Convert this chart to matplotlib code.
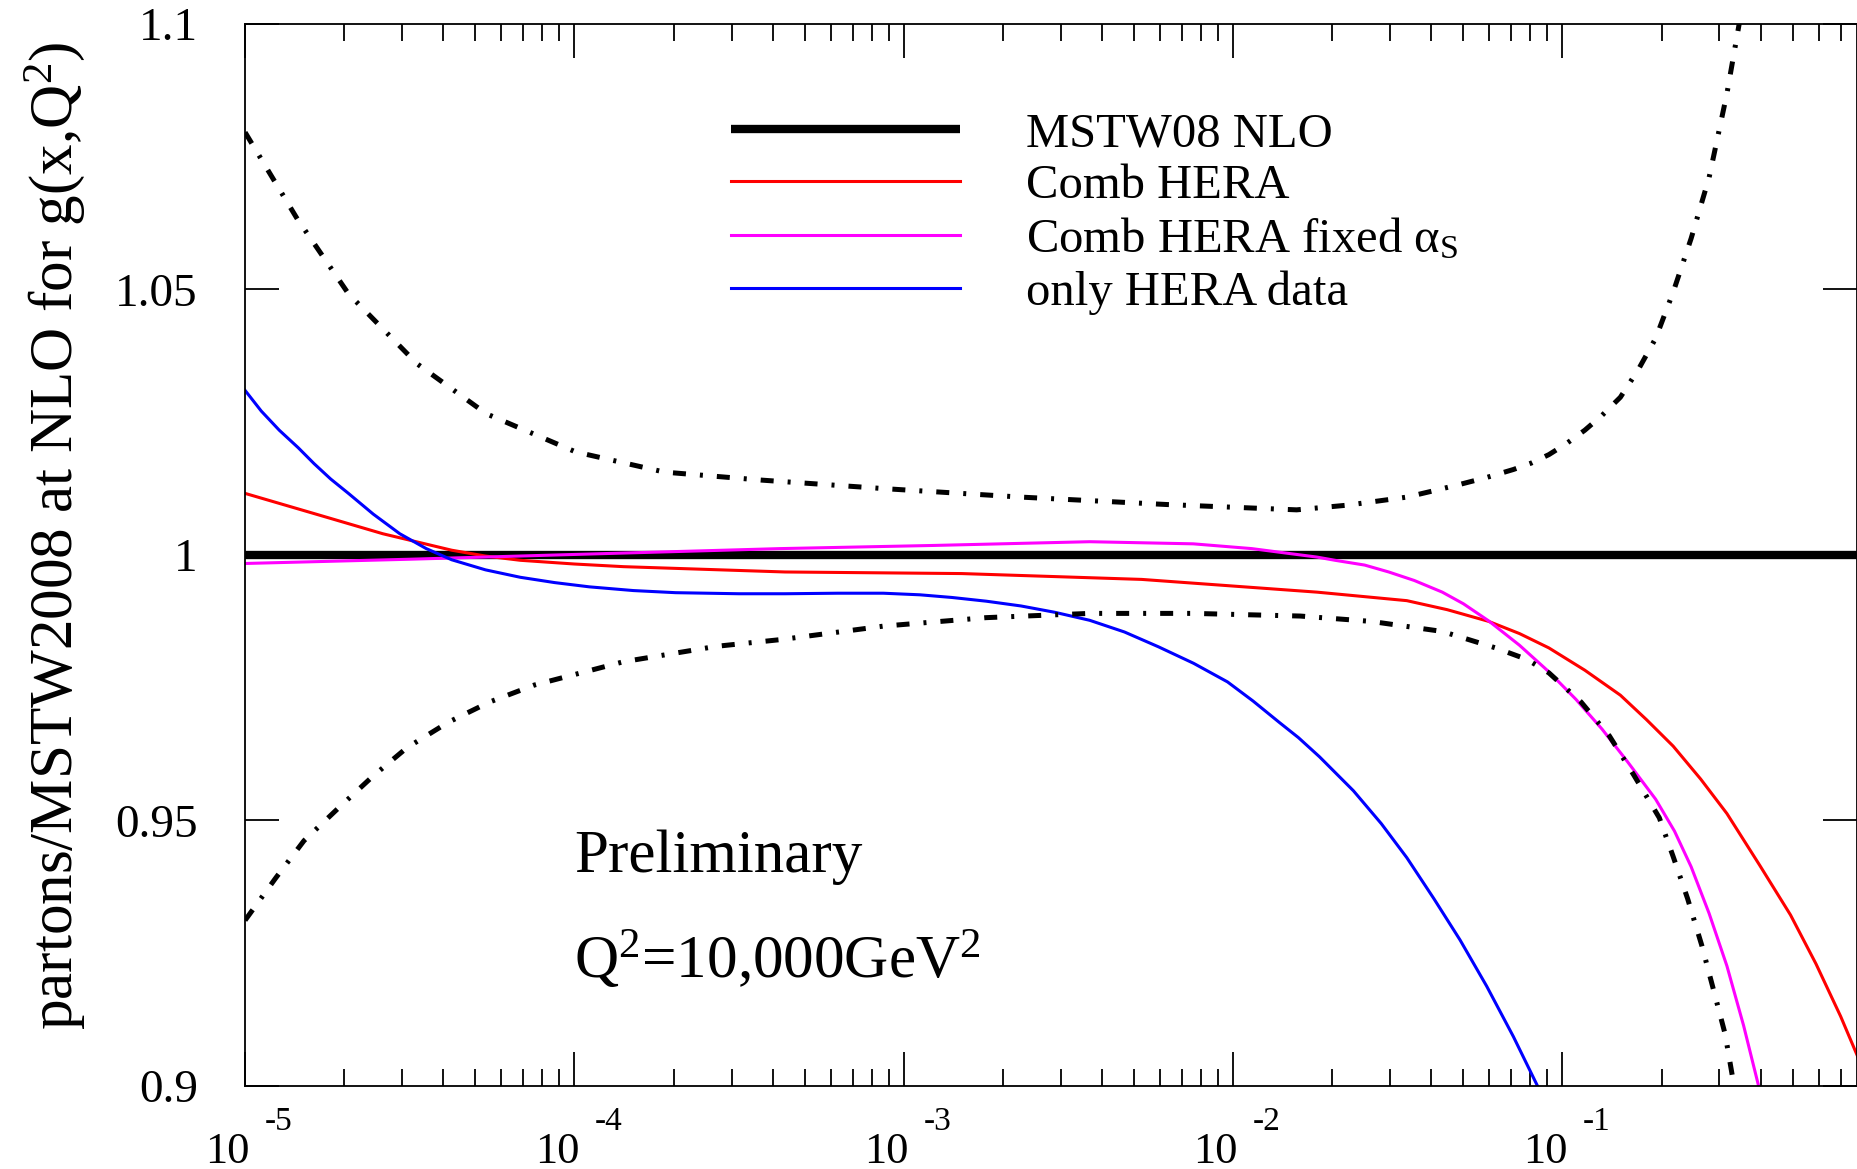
import matplotlib
matplotlib.use('Agg')
import numpy as np
import matplotlib.pyplot as plt
from matplotlib.ticker import FixedLocator, LogLocator, NullFormatter, FuncFormatter

plt.rcParams['font.family'] = ['Liberation Serif', 'DejaVu Serif']
plt.rcParams['mathtext.fontset'] = 'custom'
plt.rcParams['mathtext.rm'] = 'Liberation Serif'
plt.rcParams['mathtext.it'] = 'Liberation Serif:italic'
plt.rcParams['mathtext.bf'] = 'Liberation Serif:bold'

# --- values (x, ratio to MSTW08 NLO) ---
x_mstw = [1e-5, 0.785]
r_mstw = [1.0, 1.0]

# error band of MSTW08 (dash-dot)
x_upper = [1.00e-5, 1.44e-5, 2.06e-5, 3.33e-5, 5.40e-5, 1.01e-4, 1.88e-4, 3.70e-4,
           8.7e-4, 2.27e-3, 6.3e-3, 1.56e-2, 2.24e-2, 3.37e-2, 4.07e-2, 4.89e-2,
           5.89e-2, 7.10e-2, 8.04e-2, 9.10e-2, 0.103, 0.117, 0.132, 0.150, 0.170,
           0.192, 0.217, 0.246, 0.279, 0.316, 0.344, 0.355]
r_upper = [1.0796, 1.0633, 1.0492, 1.0360, 1.0266, 1.0194, 1.0156, 1.0141,
           1.0125, 1.0109, 1.0095, 1.0085, 1.0094, 1.0109, 1.0121, 1.0133,
           1.0146, 1.0161, 1.0173, 1.0189, 1.0210, 1.0235, 1.0263, 1.0297, 1.0349,
           1.0408, 1.0495, 1.0596, 1.0711, 1.0869, 1.0999, 1.105]

x_lower = [1.00e-5, 1.24e-5, 1.51e-5, 1.91e-5, 2.44e-5, 3.10e-5, 4.14e-5, 5.52e-5,
           7.55e-5, 1.41e-4, 2.70e-4, 4.28e-4, 8.67e-4, 1.78e-3, 3.67e-3, 7.57e-3,
           1.60e-2, 2.62e-2, 4.32e-2, 6.27e-2, 7.83e-2, 9.10e-2, 0.114, 0.139,
           0.165, 0.197, 0.217, 0.240, 0.265, 0.290, 0.312, 0.332]
r_lower = [0.9312, 0.9392, 0.9462, 0.9522, 0.9583, 0.9637, 0.9685, 0.9723,
           0.9755, 0.9799, 0.9828, 0.9841, 0.9866, 0.9882, 0.9890, 0.9890,
           0.9885, 0.9875, 0.9856, 0.9825, 0.9803, 0.9778, 0.9723, 0.9659,
           0.9585, 0.9505, 0.9432, 0.9353, 0.9265, 0.9173, 0.9098, 0.9001]

# Comb HERA (red)
x_comb = [1.00e-5, 1.62e-5, 2.62e-5, 4.24e-5, 5.37e-5, 6.85e-5, 1.0e-4, 1.41e-4,
          4.36e-4, 1.50e-3, 5.28e-3, 1.80e-2, 3.37e-2, 4.47e-2, 5.97e-2, 7.41e-2,
          9.10e-2, 0.117, 0.150, 0.180, 0.217, 0.263, 0.316, 0.398, 0.493, 0.589,
          0.700, 0.789]
r_comb = [1.0116, 1.0078, 1.0040, 1.0009, 0.9998, 0.9990, 0.9983, 0.9978,
          0.9968, 0.9965, 0.9954, 0.9930, 0.9914, 0.9897, 0.9875, 0.9852,
          0.9825, 0.9783, 0.9736, 0.9690, 0.9640, 0.9578, 0.9513, 0.9415, 0.9322,
          0.9230, 0.9131, 0.9055]

# Comb HERA fixed alpha_S (magenta)
x_fixed = [1.00e-5, 3.16e-5, 1.0e-4, 4.21e-4, 1.24e-3, 3.67e-3, 7.57e-3, 1.14e-2,
           1.80e-2, 2.04e-2, 2.51e-2, 2.97e-2, 3.55e-2, 4.32e-2, 5.01e-2, 5.97e-2,
           7.41e-2, 9.10e-2, 0.110, 0.132, 0.158, 0.192, 0.219, 0.246, 0.279,
           0.316, 0.355, 0.394]
r_fixed = [0.9984, 0.9992, 1.0001, 1.0012, 1.0018, 1.0025, 1.0021, 1.0012,
           0.9996, 0.9990, 0.9981, 0.9968, 0.9952, 0.9930, 0.9908, 0.9876,
           0.9830, 0.9780, 0.9728, 0.9672, 0.9610, 0.9540, 0.9480, 0.9413, 0.9325,
           0.9226, 0.9114, 0.9001]

# only HERA data (blue)
x_hera = [1.00e-5, 1.12e-5, 1.27e-5, 1.45e-5, 1.62e-5, 1.82e-5, 2.06e-5, 2.45e-5,
          2.95e-5, 3.55e-5, 4.24e-5, 5.37e-5, 6.85e-5, 8.71e-5, 1.11e-4, 1.51e-4,
          2.03e-4, 3.16e-4, 4.36e-4, 6.31e-4, 8.67e-4, 1.12e-3, 1.40e-3, 1.78e-3,
          2.27e-3, 2.88e-3, 3.67e-3, 4.68e-3, 5.94e-3, 7.59e-3, 9.62e-3, 1.15e-2,
          1.38e-2, 1.58e-2, 1.83e-2, 2.32e-2, 2.82e-2, 3.37e-2, 4.07e-2, 4.89e-2,
          5.89e-2, 7.10e-2, 8.39e-2]
r_hera = [1.0310, 1.0271, 1.0235, 1.0202, 1.0172, 1.0143, 1.0116, 1.0077,
          1.0040, 1.0012, 0.9991, 0.9972, 0.9958, 0.9948, 0.9940, 0.9933,
          0.9929, 0.9927, 0.9927, 0.9928, 0.9928, 0.9925, 0.9920, 0.9913,
          0.9904, 0.9892, 0.9877, 0.9855, 0.9827, 0.9796, 0.9761, 0.9725,
          0.9685, 0.9656, 0.9620, 0.9556, 0.9494, 0.9430, 0.9353, 0.9275,
          0.9188, 0.9093, 0.9001]

y_ticks = [0.9, 0.95, 1.0, 1.05, 1.1]
x_decades = [-5, -4, -3, -2, -1]

labels = ['MSTW08 NLO', 'Comb HERA', r'Comb HERA fixed α$_\mathrm{S}$', 'only HERA data']

fig = plt.figure(figsize=(18.58, 11.69), dpi=100)
ax = fig.add_axes([0.1319, 0.0710, 0.8676, 0.9085])

ax.plot(x_mstw, r_mstw, color='black', lw=6, label=labels[0], solid_capstyle='butt')
ax.plot(x_comb, r_comb, color='#ff0000', lw=2.2, label=labels[1])
ax.plot(x_fixed, r_fixed, color='#ff00ff', lw=2.2, label=labels[2])
ax.plot(x_hera, r_hera, color='#0000ff', lw=2.2, label=labels[3])
dashdot = (0, (2.6, 2.8, 0.6, 2.8))
ax.plot(x_upper, r_upper, color='black', lw=3.6, ls=dashdot)
ax.plot(x_lower, r_lower, color='black', lw=3.6, ls=dashdot)

ax.set_xscale('log')
ax.set_xlim(1e-5, 0.785)
ax.set_ylim(0.9, 1.1)

ax.yaxis.set_major_locator(FixedLocator(y_ticks))
ax.yaxis.set_major_formatter(FuncFormatter(lambda v, p: f'{v:g}'))
ax.xaxis.set_major_locator(LogLocator(base=10, numticks=20))
ax.xaxis.set_minor_locator(LogLocator(base=10, subs=np.arange(2, 10), numticks=20))
ax.xaxis.set_major_formatter(NullFormatter())
ax.xaxis.set_minor_formatter(NullFormatter())

ax.tick_params(which='both', direction='in', top=True, right=True, width=1.3)
ax.tick_params(which='major', length=24.5)
ax.tick_params(which='minor', length=12.5)
ax.tick_params(axis='y', labelsize=34, pad=34)
for s in ax.spines.values():
    s.set_linewidth(1.3)

# x tick labels drawn as "10" with a raised exponent
for k in x_decades:
    ax.annotate('10', xy=(10.0 ** k, 0), xycoords=('data', 'axes fraction'),
                xytext=(5, -77), textcoords='offset pixels',
                ha='right', va='baseline', fontsize=32)
    ax.annotate(f'-{abs(k)}', xy=(10.0 ** k, 0), xycoords=('data', 'axes fraction'),
                xytext=(20, -44), textcoords='offset pixels',
                ha='left', va='baseline', fontsize=24)

ax.set_ylabel(r'partons/MSTW2008 at NLO for g(x,Q$^2$)', fontsize=44)
ax.yaxis.set_label_coords(-0.098, 0.518)

ax.legend(loc='upper left', bbox_to_anchor=(0.3015, 0.917), frameon=False,
          fontsize=35, handlelength=4.7, handletextpad=1.36,
          labelspacing=0.17, borderpad=0, borderaxespad=0)

ax.text(1.0e-4, 0.9403, 'Preliminary', fontsize=44, va='baseline')
ax.text(1.0e-4, 0.9203, r'Q$^2$=10,000GeV$^2$', fontsize=44, va='baseline')

fig.savefig('out.png', dpi=100)
